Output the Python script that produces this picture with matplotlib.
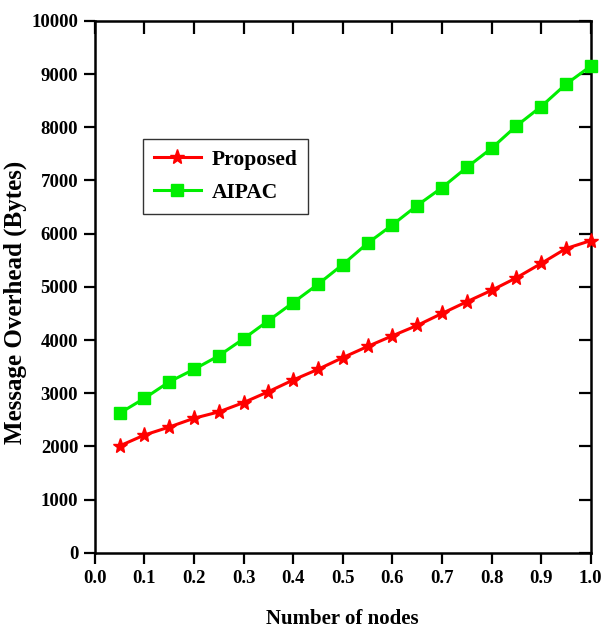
from matplotlib import pyplot as plt
from matplotlib.ticker import FixedLocator
import numpy as np

# fraction of nodes on the x axis
x_vals = [0.05, 0.10, 0.15, 0.20, 0.25, 0.30, 0.35, 0.40, 0.45, 0.50,
          0.55, 0.60, 0.65, 0.70, 0.75, 0.80, 0.85, 0.90, 0.95, 1.00]
proposed = [2010, 2215, 2365, 2530, 2650, 2825, 3030, 3250, 3450, 3670,
            3880, 4080, 4275, 4500, 4720, 4935, 5170, 5440, 5720, 5870]
aipac = [2625, 2905, 3215, 3450, 3705, 4025, 4365, 4705, 5050, 5420,
         5820, 6165, 6530, 6865, 7245, 7605, 8025, 8390, 8810, 9150]

plt.rcParams['font.family'] = 'Liberation Serif'
plt.rcParams['font.weight'] = 'bold'
plt.rcParams['axes.labelweight'] = 'bold'

fig = plt.figure(figsize=(6.04, 6.34), dpi=100)
ax = fig.add_axes([0.157, 0.128, 0.821, 0.839])

ax.plot(x_vals, proposed, color='#ff0000', lw=2.2, marker='*', ms=11,
        label='Proposed', clip_on=False, zorder=3)
ax.plot(x_vals, aipac, color='#00ee00', lw=2.2, marker='s', ms=8,
        label='AIPAC', clip_on=False, zorder=3)

ax.set_xlim(0, 1.0)
ax.set_ylim(0, 10000)
ax.xaxis.set_major_locator(FixedLocator(np.arange(0, 1.01, 0.1)))
ax.yaxis.set_major_locator(FixedLocator(range(0, 10001, 1000)))
ax.set_xticklabels(['%.1f' % v for v in np.arange(0, 1.01, 0.1)])

for s in ax.spines.values():
    s.set_linewidth(1.8)
ax.tick_params(axis='both', which='major', direction='out', length=8,
               width=1.6, labelsize=13.5, pad=4)
ax.tick_params(top=True, right=True)
# inner ticks on the top and right spines
for t in ax.xaxis.get_major_ticks():
    t.tick2line.set_marker(3)
    t.tick2line.set_markersize(9)
for t in ax.yaxis.get_major_ticks():
    t.tick2line.set_marker(0)
    t.tick2line.set_markersize(9)

ax.set_xlabel('Number of nodes', fontsize=15)
ax.set_ylabel('Message Overhead (Bytes)', fontsize=18)
ax.xaxis.set_label_coords(0.5, -0.105)
ax.yaxis.set_label_coords(-0.137, 0.47)

leg = ax.legend(loc='upper left', bbox_to_anchor=(0.097, 0.778), fontsize=15.5,
                frameon=True, fancybox=False, edgecolor='black',
                handlelength=2.2, borderpad=0.5, labelspacing=0.6,
                borderaxespad=0, handletextpad=0.5)
leg.get_frame().set_linewidth(1.0)

fig.savefig('out.png', dpi=100)
plt.close(fig)
